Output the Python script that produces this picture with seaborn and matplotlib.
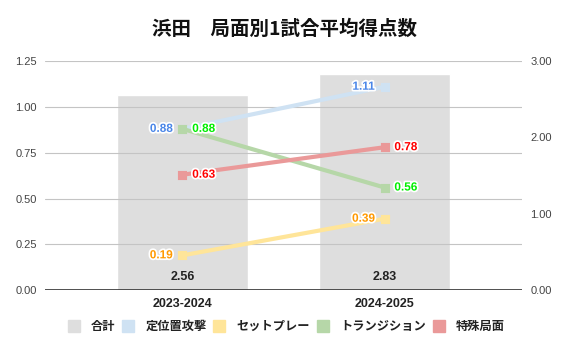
import matplotlib
matplotlib.use("Agg")
import matplotlib.pyplot as plt
import matplotlib.patheffects as pe
from matplotlib.lines import Line2D
import seaborn as sns
import pandas as pd

# ---- data ----
seasons = ["2023-2024", "2024-2025"]
total = [2.56, 2.83]
series_names = ["定位置攻撃", "セットプレー", "トランジション", "特殊局面"]
set_position = [0.88, 1.11]
set_piece = [0.19, 0.39]
transition = [0.88, 0.56]
special = [0.63, 0.78]
left_ticks = [0.00, 0.25, 0.50, 0.75, 1.00, 1.25]
right_ticks = [0, 1, 2, 3]

sns.set_theme(style="white")
plt.rcParams["font.family"] = ["Liberation Sans", "Noto Sans CJK JP", "DejaVu Sans"]

line_colors = ["#cfe2f3", "#ffe599", "#b6d7a8", "#ea9999"]
label_colors = ["#4a86e8", "#ff9900", "#00ee00", "#ff0000"]
label_side = ["left", "left", "right", "right"]
bar_color = "#dedede"

fig = plt.figure(figsize=(5.7, 3.53), dpi=100)
ax = fig.add_subplot(111)
fig.subplots_adjust(left=0.079, right=0.916, top=0.827, bottom=0.178)

# bars on primary axis (right scale)
df_bar = pd.DataFrame({"season": seasons, "total": total})
sns.barplot(data=df_bar, x="season", y="total", color=bar_color, width=0.65,
            saturation=1, ax=ax, zorder=1)
ax.set_ylim(0, 3)
for i, v in enumerate(total):
    ax.annotate(f"{v:.2f}", (i, 0), xytext=(0, 5), textcoords="offset points",
                ha="center", va="bottom", fontsize=9, fontweight="bold", color="#222222")

# lines on twin axis (left scale)
ax2 = ax.twinx()
ax.yaxis.tick_right()
ax.yaxis.set_label_position("right")
ax2.yaxis.tick_left()
ax2.yaxis.set_label_position("left")
ax.set_yticks(right_ticks)
ax.set_yticklabels([f"{v:.2f}" for v in right_ticks], fontsize=8, color="#444444")
ax.tick_params(axis="y", length=0, pad=6, labelleft=False, labelright=True)

long = []
values = [set_position, set_piece, transition, special]
for name, vals in zip(series_names, values):
    for s, v in zip(seasons, vals):
        long.append({"season": s, "series": name, "value": v})
df_line = pd.DataFrame(long)
sns.pointplot(data=df_line, x="season", y="value", hue="series",
              hue_order=series_names, palette=line_colors, markers="s",
              markersize=5, linewidth=3, dodge=False, ax=ax2, legend=False,
              errorbar=None, zorder=3)
ax2.set_ylim(0, 1.25)
ax2.set_yticks(left_ticks)
ax2.set_yticklabels([f"{v:.2f}" for v in left_ticks], fontsize=8, color="#444444")
ax2.tick_params(axis="y", length=0, pad=6, labelleft=True, labelright=False)
ax2.grid(axis="y", color="#c4c4c4", linewidth=0.8, zorder=0)
for name, vals, lc, side in zip(series_names, values, label_colors, label_side):
    for i, v in enumerate(vals):
        dx = -7 if side == "left" else 7
        t = ax2.annotate(f"{v:.2f}", (i, v), xytext=(dx, 0), textcoords="offset points",
                         ha="right" if side == "left" else "left", va="center",
                         fontsize=8.5, fontweight="bold", color=lc, zorder=5)
        t.set_path_effects([pe.withStroke(linewidth=2.5, foreground="white")])

for a in (ax, ax2):
    for sp in a.spines.values():
        sp.set_visible(False)
    a.set_xlabel("")
    a.set_ylabel("")
ax2.axhline(0, color="#333333", linewidth=1.2, zorder=4)

ax.set_xlim(-0.68, 1.68)
ax.set_xticks(range(len(seasons)))
ax.set_xticklabels(seasons, fontsize=9, fontweight="bold", color="#222222")
ax.tick_params(axis="x", length=0, pad=6)
ax2.tick_params(axis="x", length=0)

fig.suptitle("浜田　局面別1試合平均得点数", x=0.5, y=0.945, fontsize=14,
             fontweight="bold", family=["Noto Sans CJK JP"], color="#111111")

handles = [Line2D([], [], marker="s", linestyle="none", markersize=8,
                  markerfacecolor=bar_color, markeredgecolor=bar_color)]
for c in line_colors:
    handles.append(Line2D([], [], marker="s", linestyle="none", markersize=8,
                          markerfacecolor=c, markeredgecolor=c))
labels = ["合計"] + series_names
leg = fig.legend(handles, labels, loc="center", bbox_to_anchor=(0.502, 0.075), ncol=5,
                 frameon=False, prop={"family": ["Noto Sans CJK JP"], "size": 8.8, "weight": "bold"},
                 handletextpad=0.9, columnspacing=0.55, handlelength=1.0)
for t in leg.get_texts():
    t.set_color("#222222")

fig.savefig("out.png", dpi=100)
